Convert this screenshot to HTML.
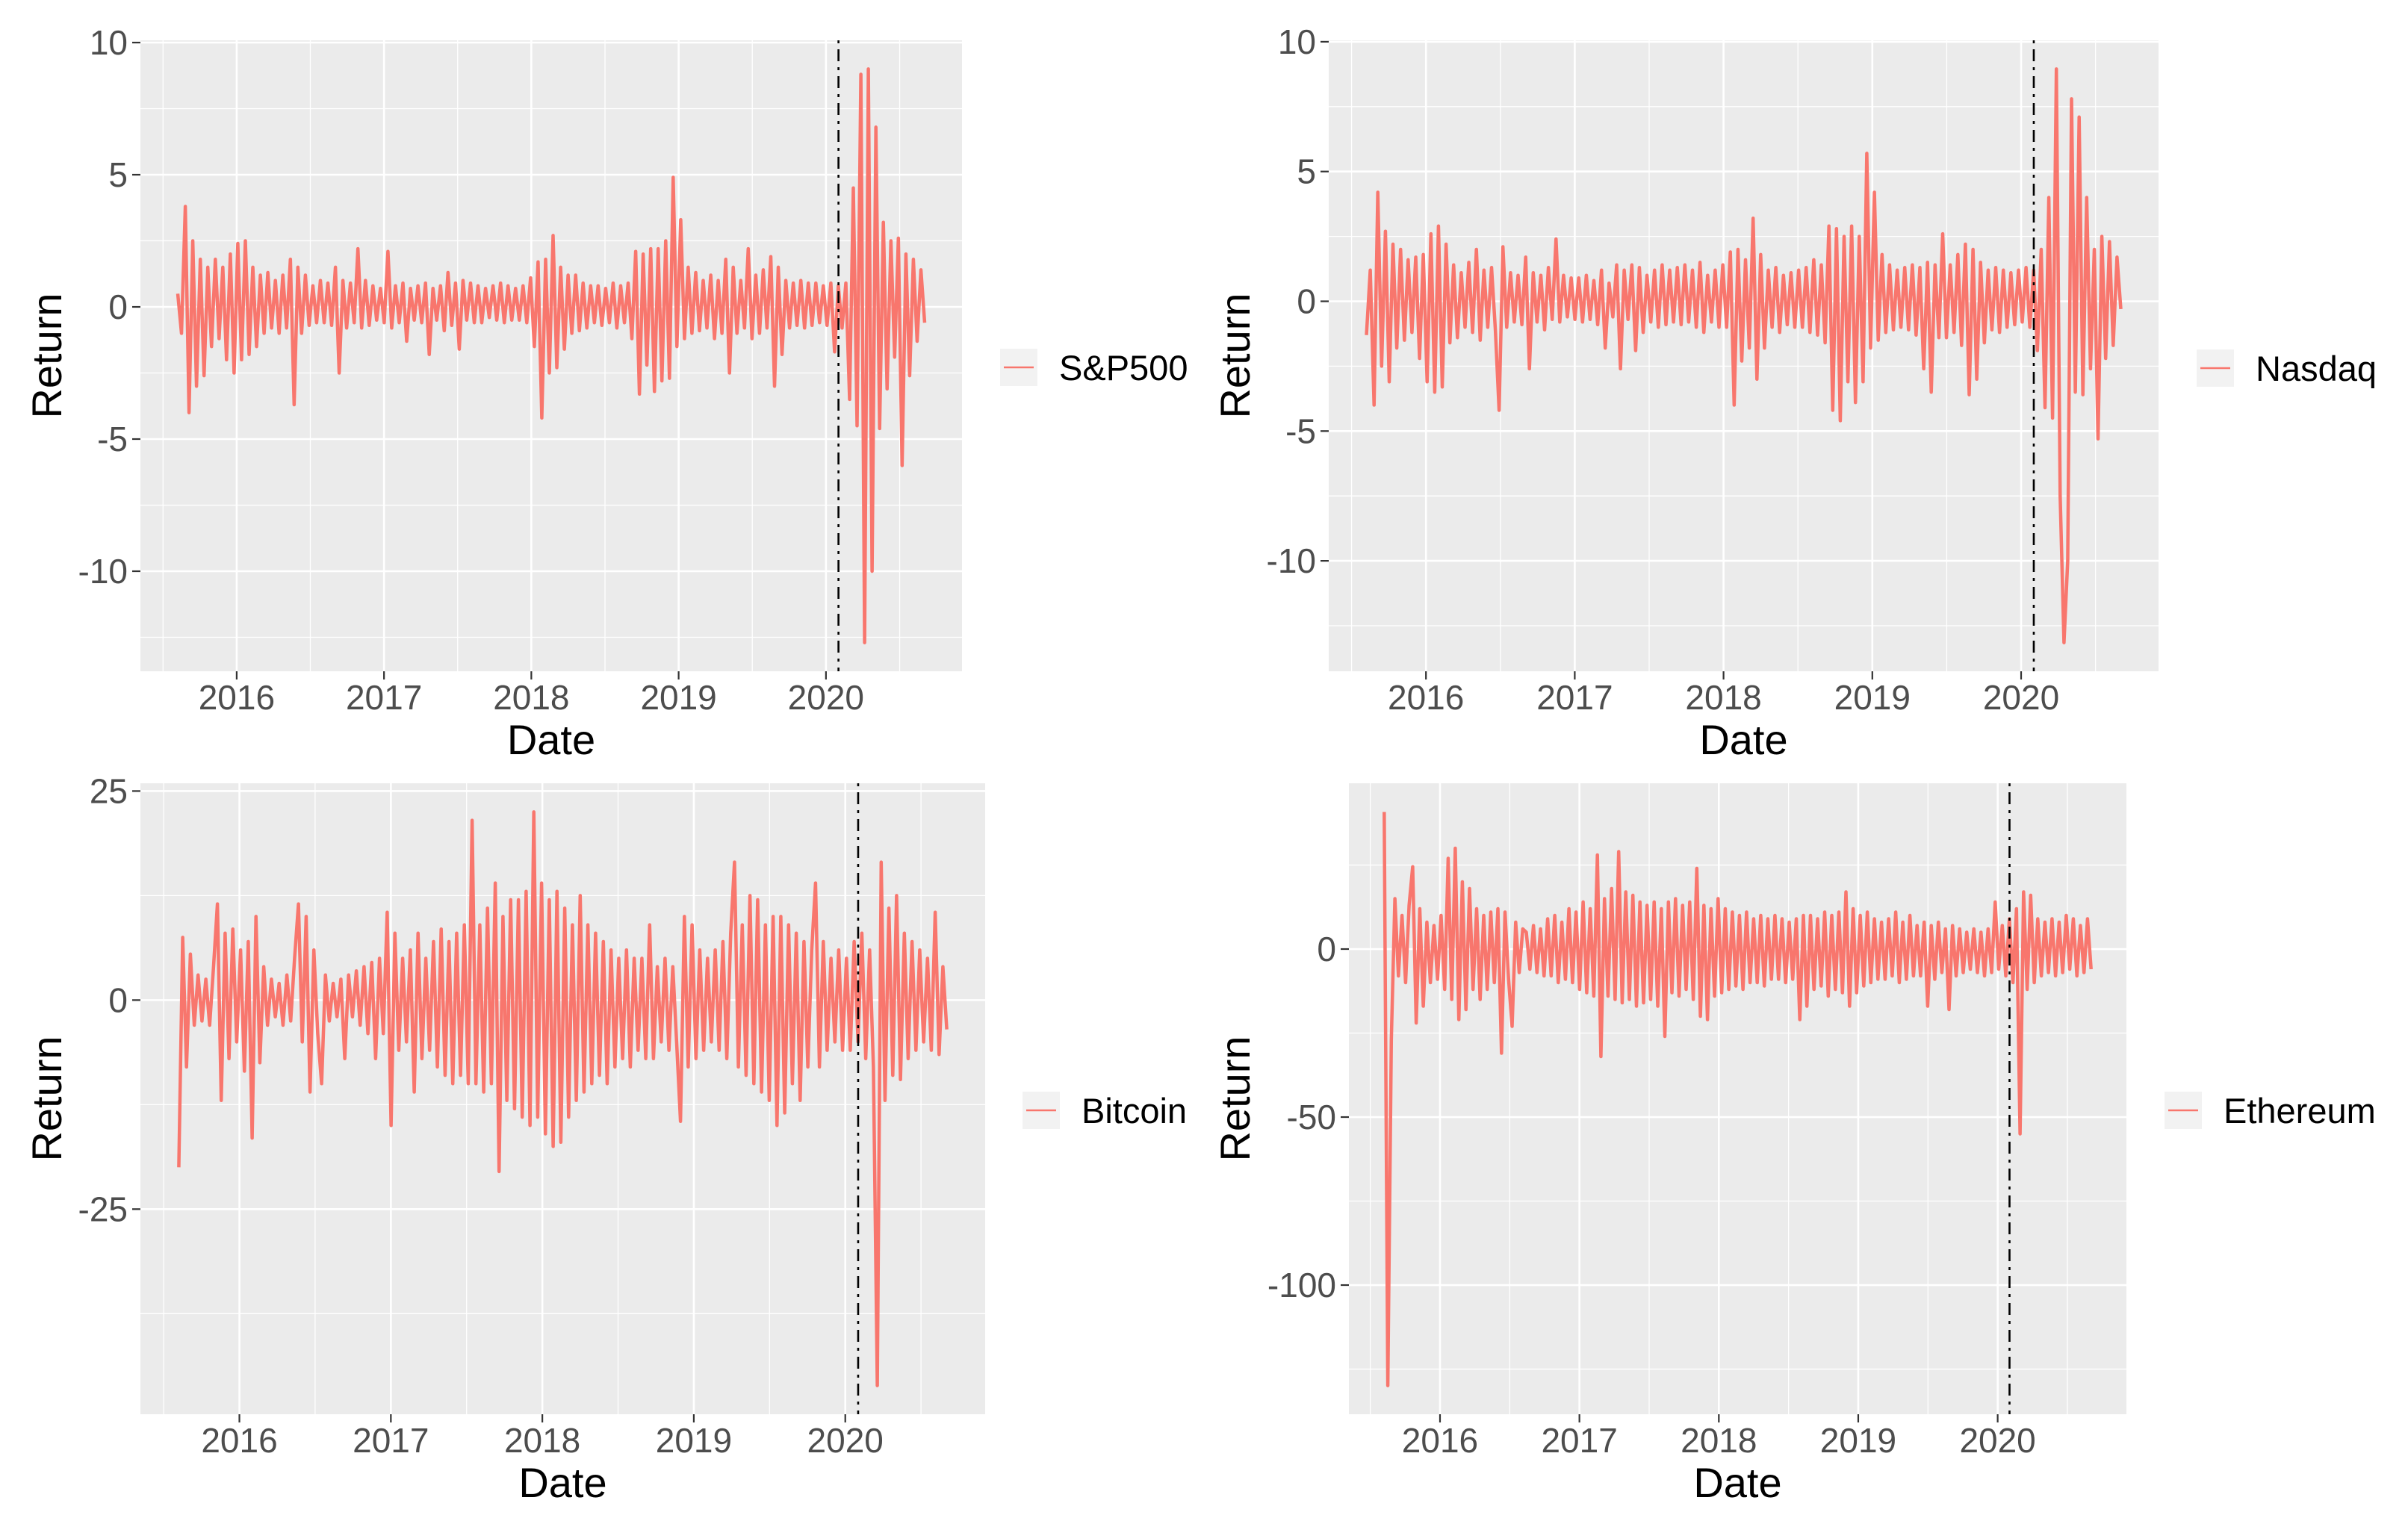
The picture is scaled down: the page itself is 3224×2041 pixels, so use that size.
<!DOCTYPE html>
<html><head><meta charset="utf-8"><style>
html,body{margin:0;padding:0;background:#fff;}
svg{display:block;font-family:"Liberation Sans",Arial,sans-serif;}
</style></head><body>
<svg id="chart" width="3224" height="2041" viewBox="0 0 3224 2041" xmlns="http://www.w3.org/2000/svg"></svg>
<script>
// ---- data ----
const dateStart = 2015.6;
const dateEnd = 2020.67;
const eventDate = 2020.085;
const xTickYears = [2016, 2017, 2018, 2019, 2020];
const xTickLabels = ["2016", "2017", "2018", "2019", "2020"];
const seriesNames = ["S&P500", "Nasdaq", "Bitcoin", "Ethereum"];
const ticksSP = [-10, -5, 0, 5, 10];
const ticksNQ = [-10, -5, 0, 5, 10];
const ticksBTC = [-25, 0, 25];
const ticksETH = [-100, -50, 0];

const valuesSP = [
 0.5,-1,3.8,-4,2.5,-3,1.8,-2.6,1.5,-1.5,
 1.8,-1.2,1.5,-2,2,-2.5,2.4,-2,2.5,-1.8,
 1.5,-1.5,1.2,-1,1.3,-0.8,1,-1,1.2,-0.8,
 1.8,-3.7,1.5,-1,1.2,-0.7,0.8,-0.6,1,-0.6,
 0.9,-0.7,1.5,-2.5,1,-0.8,0.9,-0.6,2.2,-0.8,
 1,-0.7,0.8,-0.5,0.7,-0.6,2.1,-0.8,0.8,-0.6,
 0.9,-1.3,0.7,-0.5,0.8,-0.6,0.9,-1.8,0.7,-0.5,
 0.8,-0.9,1.3,-0.7,0.9,-1.6,1,-0.5,0.9,-0.6,
 0.8,-0.6,0.7,-0.4,0.8,-0.5,0.9,-0.6,0.8,-0.5,
 0.7,-0.5,0.8,-0.6,1.1,-1.5,1.7,-4.2,1.8,-2.5,
 2.7,-2.3,1.5,-1.6,1.2,-1,1.2,-0.9,0.9,-0.8,
 0.8,-0.6,0.8,-0.7,0.7,-0.6,0.9,-0.8,0.8,-0.6,
 0.9,-1.2,2.1,-3.3,2,-2.2,2.2,-3.2,2.2,-2.8,
 2.5,-2.7,4.9,-1.5,3.3,-1.2,1.5,-1,1.3,-0.9,
 1,-0.8,1.2,-1.2,1,-1,1.8,-2.5,1.5,-1,
 1,-0.8,2.2,-1.2,1.2,-1,1.4,-0.8,1.9,-3,
 1.5,-1.8,1,-0.8,0.9,-0.7,1,-0.8,0.9,-0.7,
 0.9,-0.6,0.8,-0.7,0.9,-1.7,0.8,-0.8,0.9,-3.5,
 4.5,-4.5,8.8,-12.7,9,-10,6.8,-4.6,3.2,-3.1,
 2.5,-1.9,2.6,-6,2,-2.6,1.8,-1.3,1.4,-0.6
];
const valuesNQ = [
 -1.3,1.2,-4,4.2,-2.5,2.7,-3.1,2.2,-1.8,2,
 -1.5,1.6,-1.2,1.7,-2.2,1.8,-3.1,2.6,-3.5,2.9,
 -3.3,2.2,-1.6,1.4,-1.4,1.1,-1,1.5,-1.2,2,
 -1.5,1.2,-1,1.3,-1.1,-4.2,2.1,-1,1.1,-0.8,
 1,-0.9,1.7,-2.6,1.1,-0.8,1,-1.1,1.3,-0.7,
 2.4,-0.8,1,-0.6,0.9,-0.7,0.9,-0.8,1,-0.7,
 0.8,-0.9,1.2,-1.8,0.7,-0.6,1.4,-2.6,1.2,-0.7,
 1.4,-1.9,1.3,-1.2,1,-0.8,1.2,-1,1.4,-0.9,
 1.2,-0.8,1.3,-0.9,1.4,-0.8,1.2,-1,1.5,-1.2,
 1,-0.8,1.2,-1,1.4,-1,1.9,-4,2,-2.3,
 1.6,-1.8,3.2,-3,1.8,-1.8,1.2,-1,1.3,-1.2,
 1,-0.9,1.1,-1,1.2,-1,1.3,-1.2,1.6,-1.3,
 1.4,-1.6,2.9,-4.2,2.8,-4.6,2.5,-3.1,2.9,-3.9,
 2.5,-3.1,5.7,-1.8,4.2,-1.5,1.8,-1.2,1.4,-1.1,
 1.2,-1,1.3,-1.1,1.4,-1.3,1.3,-2.6,1.5,-3.5,
 1.4,-1.4,2.6,-1.4,1.4,-1.2,1.8,-1.7,2.2,-3.6,
 2,-3,1.5,-1.6,1.2,-1.1,1.3,-1.2,1.2,-1,
 1.1,-0.9,1.2,-0.8,1.3,-1,1.2,-1.9,2,-4.1,
 4,-4.5,8.95,-7.5,-13.15,-10,7.8,-3.5,7.1,-3.6,
 4,-2.6,2,-5.3,2.5,-2.2,2.3,-1.7,1.7,-0.3
];
const valuesBTC = [
 -20,7.5,-8,5.5,-3,3,-2.5,2.5,-3,4,
 11.5,-12,8,-7,8.5,-5,6,-8.5,7,-16.5,
 10,-7.5,4,-3,2.5,-2,2,-3,3,-2.5,
 5,11.5,-5,10,-11,6,-4,-10,3,-2.5,
 2,-2,2.5,-7,3,-2,3.5,-3,4,-4,
 4.5,-7,5,-4,10.5,-15,8,-6,5,-5,
 6,-11,8,-7,5,-6,7,-8,8.5,-9,
 7,-10,8,-9,9,-10,21.5,-10,9,-11,
 11,-10,14,-20.5,10,-12,12,-13,12,-14,
 13,-15,22.5,-14,14,-16,12,-17.5,13,-17,
 11,-14,9,-12,12.5,-11,9,-10,8,-9,
 7,-10,6,-8,5,-7,6,-8,5,-6,
 5,-7,9,-7,4,-5,5,-6,4,-5,
 -14.5,10,-8,9,-7,6,-6,5,-5,6,
 -6,7,-7,8,16.5,-8,9,-9,12.5,-10,
 12,-11,9,-12,10,-15,10,-13.5,9,-10,
 8,-12,7,-8,6,14,-8,7,-6,5,
 -5,6,-6,5,-6,7,-5,8,-7,6,
 -8,-46.1,16.5,-12,11,-9,12.5,-9.5,8,-7,
 7,-6,6,-5,5,-6,10.5,-6.5,4,-3.5
];
const valuesETH = [
 40.8,-129.9,-27,15,-8,10,-10,13,24.5,-22,
 12,-17,8,-10,7,-9,10,-12,27,-15,
 30,-21,20,-18,18,-12,12,-15,10,-12,
 11,-10,12,-31,11,-9,-23,8,-7,6,
 5,-6,7,-7,6,-8,9,-8,10,-10,
 8,-9,12,-10,11,-12,14,-13,12,-14,
 28,-32,15,-14,18,-15,29,-16,17,-15,
 16,-17,14,-16,13,-15,14,-17,12,-26,
 14,-13,15,-14,13,-12,14,-15,24,-20,
 13,-21,12,-14,15,-13,12,-12,11,-11,
 10,-12,11,-10,9,-10,10,-11,9,-9,
 10,-9,9,-10,8,-9,9,-21,10,-17,
 10,-12,9,-11,11,-14,10,-12,11,-13,
 17,-17,12,-13,10,-11,11,-10,9,-9,
 8,-9,9,-8,11,-10,8,-9,10,-8,
 7,-8,8,-17,7,-9,8,-7,6,-18,
 7,-8,6,-7,5,-6,6,-7,5,-8,
 6,-7,14,-6,7,-8,9,-10,12,-55,
 17,-12,16,-10,9,-8,8,-7,9,-8,
 8,-7,10,-6,9,-8,7,-7,9,-6
];

// ---- layout ----
const NS = "http://www.w3.org/2000/svg";
const svg = document.getElementById("chart");
const panels = [
  {key:"sp500", values:valuesSP, ticks:ticksSP, name:seriesNames[0], L:188, R:1288, T:54, B:899, titleX:82, legX:1339, legY:467},
  {key:"nasdaq", values:valuesNQ, ticks:ticksNQ, name:seriesNames[1], L:1779, R:2890, T:54, B:899, titleX:1673, legX:2941, legY:468},
  {key:"bitcoin", values:valuesBTC, ticks:ticksBTC, name:seriesNames[2], L:188, R:1319, T:1049, B:1894, titleX:82, legX:1369, legY:1462},
  {key:"ethereum", values:valuesETH, ticks:ticksETH, name:seriesNames[3], L:1806, R:2847, T:1049, B:1894, titleX:1673, legX:2898, legY:1462}
];
function mk(tag, attrs, parent){
  const e = document.createElementNS(NS, tag);
  for (const k in attrs) e.setAttribute(k, attrs[k]);
  (parent||svg).appendChild(e);
  return e;
}
panels.forEach(p=>{
  const vals = p.values;
  const n = vals.length;
  const xr = dateEnd - dateStart;
  const x0 = dateStart - 0.05*xr, x1 = dateEnd + 0.05*xr;
  const vmin = Math.min(...vals), vmax = Math.max(...vals);
  const yr = vmax - vmin;
  const y0 = vmin - 0.05*yr, y1 = vmax + 0.05*yr;
  const sx = v => p.L + (v - x0)/(x1 - x0)*(p.R - p.L);
  const sy = v => p.B - (v - y0)/(y1 - y0)*(p.B - p.T);

  const g = mk("g", {});
  
  
  const bg = mk("rect", {x:p.L, y:p.T, width:p.R-p.L, height:p.B-p.T, fill:"#EBEBEB"}, g);
  
  

  const step = p.ticks[1]-p.ticks[0];
  for (let t = p.ticks[0]-step*3; t <= p.ticks[p.ticks.length-1]+step*3; t += step){
    const m = t + step/2;
    if (m > y0 && m < y1){
      const l = mk("line", {x1:p.L, x2:p.R, y1:sy(m), y2:sy(m), stroke:"#fff", "stroke-width":1.3}, g);
      
      
    }
  }
  for (let yv = 2015; yv <= 2021; yv++){
    const m = yv + 0.5;
    if (m > x0 && m < x1){
      const l = mk("line", {x1:sx(m), x2:sx(m), y1:p.T, y2:p.B, stroke:"#fff", "stroke-width":1.3}, g);
      
      
    }
  }
  p.ticks.forEach(t=>{
    const l = mk("line", {x1:p.L, x2:p.R, y1:sy(t), y2:sy(t), stroke:"#fff", "stroke-width":2.6}, g);
    
    
    const tk = mk("line", {x1:p.L-11, x2:p.L, y1:sy(t), y2:sy(t), stroke:"#333", "stroke-width":2.2}, g);
    
    
    const tx = mk("text", {x:p.L-17, y:sy(t)+16, "text-anchor":"end", "font-size":46, fill:"#4D4D4D"}, g);
    tx.textContent = String(t);
    
    
  });
  xTickYears.forEach((yv,i)=>{
    const l = mk("line", {x1:sx(yv), x2:sx(yv), y1:p.T, y2:p.B, stroke:"#fff", "stroke-width":2.6}, g);
    
    
    const tk = mk("line", {x1:sx(yv), x2:sx(yv), y1:p.B, y2:p.B+11, stroke:"#333", "stroke-width":2.2}, g);
    
    
    const tx = mk("text", {x:sx(yv), y:p.B+51, "text-anchor":"middle", "font-size":46, fill:"#4D4D4D"}, g);
    tx.textContent = xTickLabels[i];
    
    
  });
  let d = "";
  vals.forEach((v,i)=>{
    const xd = dateStart + i*(dateEnd-dateStart)/(n-1);
    d += (i?"L":"M") + sx(xd).toFixed(1) + " " + sy(v).toFixed(1);
  });
  const path = mk("path", {d:d, fill:"none", stroke:"#F8766D", "stroke-width":4.5, "stroke-linejoin":"round"}, g);
  
  
  const ev = mk("line", {x1:sx(eventDate), x2:sx(eventDate), y1:p.T, y2:p.B, stroke:"#000", "stroke-width":2.6, "stroke-dasharray":"4 8 16 8"}, g);
  
  
  const xt = mk("text", {x:(p.L+p.R)/2, y:p.B+111, "text-anchor":"middle", "font-size":56, fill:"#000"}, g);
  xt.textContent = "Date";
  
  
  const cy = (p.T+p.B)/2;
  const yt = mk("text", {x:p.titleX, y:cy, "text-anchor":"middle", "font-size":56, fill:"#000", transform:"rotate(-90 "+p.titleX+" "+cy+")"}, g);
  yt.textContent = "Return";
  
  
  const lg = mk("g", {}, g);
  
  
  mk("rect", {x:p.legX, y:p.legY, width:50, height:50, fill:"#F2F2F2"}, lg);
  mk("line", {x1:p.legX+5, x2:p.legX+45, y1:p.legY+25, y2:p.legY+25, stroke:"#F8766D", "stroke-width":2.6}, lg);
  const lt = mk("text", {x:p.legX+79, y:p.legY+42, "font-size":47, fill:"#000"}, lg);
  lt.textContent = p.name;
});
</script>
</body></html>
